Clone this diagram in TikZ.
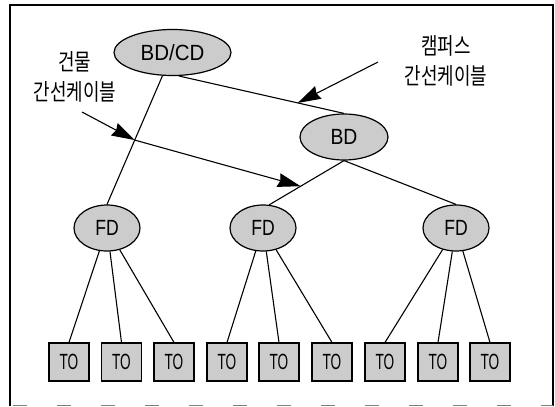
\documentclass[tikz,border=0pt]{standalone}
\usepackage{fontspec}
\usepackage{graphicx}
\setmainfont{Liberation Sans}
\newfontfamily\krfont{Noto Sans CJK KR}
\usetikzlibrary{shapes.geometric,arrows.meta}
\tikzset{
  hub/.style={ellipse, draw, line width=1.2pt, fill=black!20, inner sep=0pt,
    minimum height=46pt, font=\fontsize{22}{22}\selectfont},
  outlet/.style={rectangle, draw, line width=1.1pt, fill=black!20, inner sep=0pt,
    minimum width=40pt, minimum height=38pt, font=\fontsize{22}{22}\selectfont},
  link/.style={line width=1.1pt},
  pointer/.style={line width=1.1pt, -{Stealth[length=23pt,width=14pt,inset=2pt]}},
  caption/.style={font=\krfont\fontsize{23}{30}\selectfont, align=center, inner sep=0pt},
  frameline/.style={line width=1.4pt},
}
\begin{document}
\begin{tikzpicture}[x=1pt,y=-1pt]
  \useasboundingbox (0,0) rectangle (555,407);

  % outer frame
  \draw[frameline] (10,406) -- (10,5) -- (553,5) -- (553,406);
  \draw[gray, line width=1pt, dash pattern=on 14pt off 30pt] (13,405.5) -- (553,405.5);

  % distributors
  \node[hub, minimum width=117pt] (bdcd) at (172.5,52.5) {\scalebox{0.93}[1]{BD/CD}};
  \node[hub, minimum width=88pt]  (bd)   at (344,137)   {\scalebox{0.88}[1]{BD}};
  \node[hub, minimum width=66pt]  (fd1)  at (107,228)   {\scalebox{0.8}[1]{FD}};
  \node[hub, minimum width=66pt]  (fd2)  at (263,228)   {\scalebox{0.8}[1]{FD}};
  \node[hub, minimum width=66pt]  (fd3)  at (456,228)   {\scalebox{0.8}[1]{FD}};

  % telecommunication outlets
  \foreach \i/\x in {1/69,2/121.5,3/174,4/227,5/279,6/332,7/385,8/438,9/490}
    \node[outlet] (to\i) at (\x,362) {\scalebox{0.62}[1]{TO}};

  % backbone cabling
  \draw[link] (bdcd) -- (fd1.north) coordinate[pos=0.5] (p1);
  \draw[link] (bdcd.-75) -- (bd.north) coordinate[pos=0.72] (p3);
  \draw[link] (bd.south) -- (fd2.75) coordinate[pos=0.58] (p2);
  \draw[link] (bd.south) -- (fd3.north);

  % horizontal cabling
  \foreach \f/\a/\b/\c in {fd1/to1/to2/to3, fd2/to4/to5/to6, fd3/to7/to8/to9} {
    \draw[link] (\f) -- (\a.north);
    \draw[link] (\f) -- (\b.north);
    \draw[link] (\f) -- (\c.north);
  }

  % captions
  \node[caption] (lblbuilding) at (75,77)
    {\scalebox{0.78}[1]{건물}\\\scalebox{0.78}[1]{간선케이블}};
  \node[caption] (lblcampus) at (446,61)
    {\scalebox{0.78}[1]{캠퍼스}\\\scalebox{0.78}[1]{간선케이블}};

  \coordinate (a1) at (82,112);
  \coordinate (a2) at (378,62);
  \draw[pointer] (a1) -- (p1);
  \draw[pointer] (p1) -- (p2);
  \draw[pointer] (a2) -- (p3);
\end{tikzpicture}
\end{document}
